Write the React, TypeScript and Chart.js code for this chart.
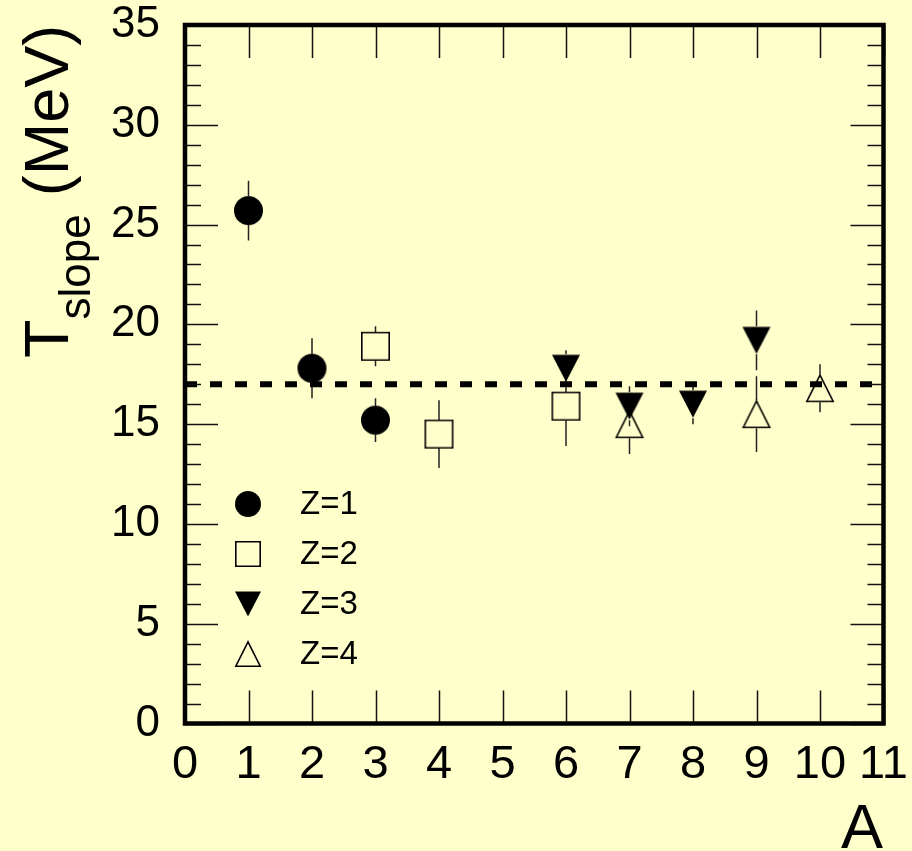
import React, { useEffect, useRef } from 'react';
import { Chart, registerables } from 'chart.js';

Chart.register(...registerables);

// ---- data ----
const z1A = [1, 2, 3];
const z1T = [25.7, 17.8, 15.2];
const z1Err = [1.5, 1.5, 1.1];

const z2A = [3, 4, 6];
const z2T = [18.9, 14.5, 15.9];
const z2Err = [1.0, 1.7, 2.0];

const z3A = [6, 7, 8, 9];
const z3T = [17.8, 15.9, 16.0, 19.2];
const z3Err = [0.9, 1.0, 1.0, 1.5];

const z4A = [7, 9, 10];
const z4T = [15.0, 15.5, 16.8];
const z4Err = [1.5, 1.9, 1.2];

const seriesLabels = ['Z=1', 'Z=2', 'Z=3', 'Z=4'];
const meanT = 17;
const xTickValues = [0, 1, 2, 3, 4, 5, 6, 7, 8, 9, 10, 11];
const yTickValues = [0, 5, 10, 15, 20, 25, 30, 35];

const FONT = '"Liberation Sans", Arial, Helvetica, sans-serif';
const BG = '#ffffcc';

type Kind = 'circle' | 'square' | 'down' | 'up';

function makeMarker(kind: Kind, size: number): HTMLCanvasElement {
  const pad = 2;
  const c = document.createElement('canvas');
  c.width = size + pad * 2;
  c.height = size + pad * 2;
  const ctx = c.getContext('2d')!;
  ctx.translate(pad, pad);
  ctx.lineWidth = 1.6;
  ctx.strokeStyle = '#000';
  ctx.fillStyle = '#000';
  ctx.beginPath();
  if (kind === 'circle') {
    ctx.arc(size / 2, size / 2, size / 2, 0, Math.PI * 2);
    ctx.fill();
  } else if (kind === 'square') {
    ctx.rect(0.8, 0.8, size - 1.6, size - 1.6);
    ctx.stroke();
  } else if (kind === 'down') {
    ctx.moveTo(0, 0.5);
    ctx.lineTo(size, 0.5);
    ctx.lineTo(size / 2, size - 0.5);
    ctx.closePath();
    ctx.fill();
  } else {
    ctx.moveTo(size / 2, 0.8);
    ctx.lineTo(0.8, size - 0.8);
    ctx.lineTo(size - 0.8, size - 0.8);
    ctx.closePath();
    ctx.stroke();
  }
  return c;
}

const toPts = (xs: number[], ys: number[]) => xs.map((x, i) => ({ x, y: ys[i] }));

export default function App() {
  const ref = useRef<HTMLCanvasElement | null>(null);

  useEffect(() => {
    if (!ref.current) return;
    const kinds: Kind[] = ['circle', 'square', 'down', 'up'];
    const dataMarkers = [makeMarker('circle', 29), makeMarker('square', 29), makeMarker('down', 28), makeMarker('up', 28)];
    const legendMarkers = kinds.map((k) => makeMarker(k, 26));
    const errs = [z1Err, z2Err, z3Err, z4Err];

    const bgPlugin = {
      id: 'bg',
      beforeDraw(chart: any) {
        const ctx = chart.ctx;
        ctx.save();
        ctx.fillStyle = BG;
        ctx.fillRect(0, 0, chart.width, chart.height);
        ctx.restore();
      },
    };

    const errPlugin = {
      id: 'errbars',
      beforeDatasetsDraw(chart: any) {
        const ctx = chart.ctx;
        const ys = chart.scales.y;
        const xs = chart.scales.x;
        ctx.save();
        ctx.strokeStyle = '#222';
        ctx.lineWidth = 1.5;
        const h = 14;
        for (let d = 0; d < 4; d++) {
          const ds = chart.data.datasets[d];
          ds.data.forEach((p: any, i: number) => {
            const e = errs[d][i];
            const px = xs.getPixelForValue(p.x);
            const py = ys.getPixelForValue(p.y);
            const pt = ys.getPixelForValue(p.y + e);
            const pb = ys.getPixelForValue(p.y - e);
            ctx.beginPath();
            if (pt < py - h) {
              ctx.moveTo(px, pt);
              ctx.lineTo(px, py - h);
            }
            if (pb > py + h) {
              ctx.moveTo(px, py + h);
              ctx.lineTo(px, pb);
            }
            ctx.stroke();
          });
        }
        ctx.restore();
      },
    };

    const framePlugin = {
      id: 'frame',
      afterDraw(chart: any) {
        const ctx = chart.ctx;
        const { left, right, top, bottom } = chart.chartArea;
        const xs = chart.scales.x;
        const ys = chart.scales.y;
        ctx.save();
        ctx.strokeStyle = '#111';
        ctx.lineWidth = 1.5;
        ctx.beginPath();
        xTickValues.forEach((v) => {
          const px = Math.round(xs.getPixelForValue(v)) + 0.5;
          ctx.moveTo(px, bottom);
          ctx.lineTo(px, bottom - 33);
          ctx.moveTo(px, top);
          ctx.lineTo(px, top + 33);
        });
        for (let v = yTickValues[0]; v <= yTickValues[yTickValues.length - 1]; v++) {
          const len = yTickValues.includes(v) ? 33 : 16;
          const py = Math.round(ys.getPixelForValue(v)) + 0.5;
          ctx.moveTo(left, py);
          ctx.lineTo(left + len, py);
          ctx.moveTo(right, py);
          ctx.lineTo(right - len, py);
        }
        ctx.stroke();
        ctx.lineWidth = 4.5;
        ctx.strokeStyle = '#000';
        ctx.strokeRect(left, top, right - left, bottom - top);

        // legend
        ctx.fillStyle = '#000';
        ctx.font = `33px ${FONT}`;
        ctx.textAlign = 'left';
        ctx.textBaseline = 'middle';
        for (let i = 0; i < 4; i++) {
          const cy = 504 + 50 * i;
          const m = legendMarkers[i];
          ctx.drawImage(m, 248 - m.width / 2, cy - m.height / 2);
          ctx.fillText(chart.data.datasets[i].label, 300, cy + 1);
        }

        // y-axis title: T_slope (MeV)
        ctx.save();
        ctx.translate(68, 358);
        ctx.rotate(-Math.PI / 2);
        ctx.textBaseline = 'alphabetic';
        ctx.font = `63px ${FONT}`;
        ctx.fillText('T', 0, 0);
        const wT = ctx.measureText('T').width;
        ctx.font = `44px ${FONT}`;
        ctx.fillText('slope', wT, 22);
        const wS = ctx.measureText('slope').width;
        ctx.font = `63px ${FONT}`;
        ctx.fillText('(MeV)', wT + wS + 18, 0);
        ctx.restore();

        // x-axis title
        ctx.font = `63px ${FONT}`;
        ctx.textAlign = 'right';
        ctx.textBaseline = 'alphabetic';
        ctx.fillText('A', 883, 848);
        ctx.restore();
      },
    };

    const chart = new Chart(ref.current, {
      type: 'scatter',
      data: {
        datasets: [
          ...[toPts(z1A, z1T), toPts(z2A, z2T), toPts(z3A, z3T), toPts(z4A, z4T)].map((d, i) => ({
            label: seriesLabels[i],
            data: d,
            pointStyle: dataMarkers[i] as any,
            pointRadius: 14,
            pointHoverRadius: 14,
            backgroundColor: '#000',
            borderColor: '#000',
            order: 1,
          })),
          {
            type: 'line' as const,
            label: 'mean',
            data: [
              { x: xTickValues[0], y: meanT },
              { x: xTickValues[xTickValues.length - 1], y: meanT },
            ],
            showLine: true,
            borderColor: '#000',
            borderWidth: 6,
            borderDash: [12, 13],
            borderCapStyle: 'butt',
            pointRadius: 0,
            fill: false,
            order: 2,
          } as any,
        ],
      },
      options: {
        animation: false,
        responsive: false,
        maintainAspectRatio: false,
        events: [],
        layout: { padding: { left: 0, top: 25, right: 28.5, bottom: 0 } },
        plugins: { legend: { display: false }, tooltip: { enabled: false }, title: { display: false } },
        scales: {
          x: {
            type: 'linear',
            min: 0,
            max: 11,
            afterBuildTicks: (s: any) => {
              s.ticks = xTickValues.map((v) => ({ value: v }));
            },
            afterFit: (s: any) => {
              s.height = 127.5;
              s.paddingLeft = 0;
              s.paddingRight = 0;
              s.paddingTop = 0;
              s.paddingBottom = 0;
            },
            grid: { display: false, drawTicks: false },
            border: { display: false },
            ticks: {
              padding: 13,
              color: '#000',
              font: { family: FONT, size: 47 },
              maxRotation: 0,
              autoSkip: false,
            },
          },
          y: {
            type: 'linear',
            min: 0,
            max: 35,
            afterBuildTicks: (s: any) => {
              s.ticks = yTickValues.map((v) => ({ value: v }));
            },
            afterFit: (s: any) => {
              s.width = 185;
              s.paddingLeft = 0;
              s.paddingRight = 0;
              s.paddingTop = 0;
              s.paddingBottom = 0;
            },
            grid: { display: false, drawTicks: false },
            border: { display: false },
            ticks: {
              padding: 25,
              color: '#000',
              font: { family: FONT, size: 44 },
              autoSkip: false,
            },
          },
        },
      },
      plugins: [bgPlugin, errPlugin, framePlugin],
    });
    return () => chart.destroy();
  }, []);

  return (
    <div style={{ position: 'fixed', left: 0, top: 0, width: 912, height: 851, background: BG }}>
      <canvas ref={ref} width={912} height={851} style={{ display: 'block', width: 912, height: 851 }} />
    </div>
  );
}
